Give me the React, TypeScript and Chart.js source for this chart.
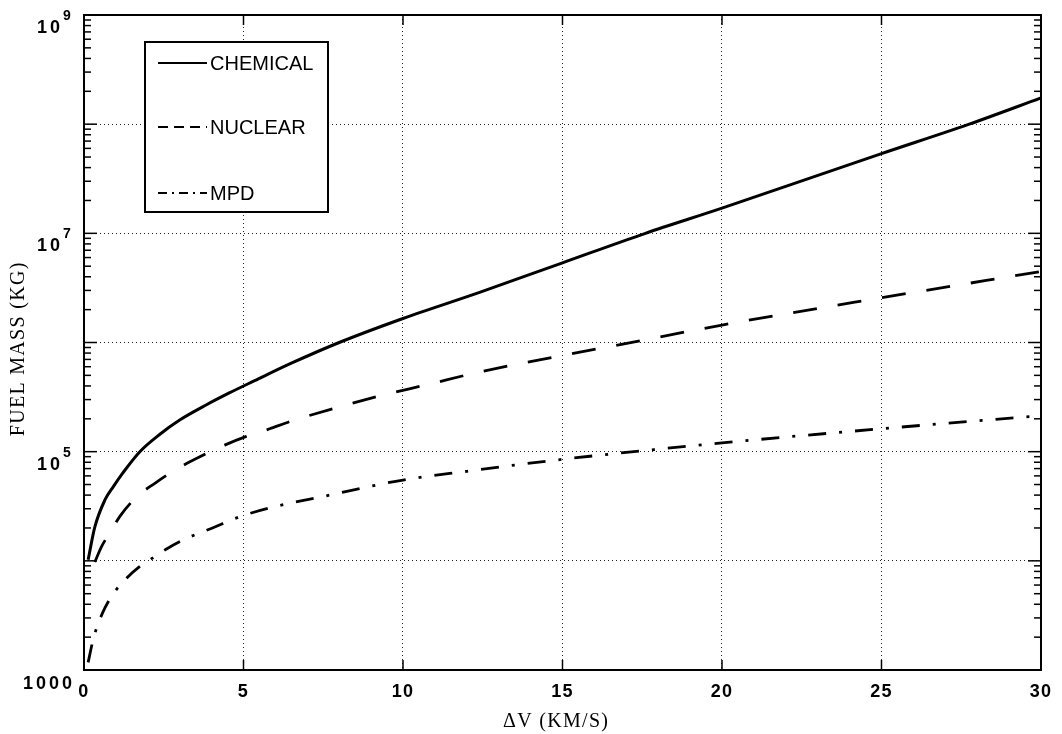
import React, { useEffect, useRef } from "react";
import { Chart, registerables } from "chart.js";

Chart.register(...registerables);

// ---- data ----
const chemicalV = [0.13, 0.34, 0.66, 0.92, 1.23, 1.75, 2.38, 3.0, 3.84, 4.57, 5.35, 6.5, 8, 10, 12.4, 15, 17.6, 20, 25, 27.75, 30];
const chemicalM = [10230, 20420, 36300, 47900, 64600, 100000, 144500, 195000, 269000, 347000, 447000, 646000, 1000000, 1660000, 2880000, 5370000, 10000000, 17000000, 53700000, 100000000, 174000000];

const nuclearV = [0.34, 0.55, 0.86, 1.13, 1.65, 2.22, 2.9, 3.68, 4.41, 5.09, 5.82, 6.5, 8, 9.4, 10.7, 12.4, 15, 17.5, 20, 25, 30];
const nuclearM = [9770, 13500, 19050, 25700, 38500, 51300, 69200, 91200, 114800, 138000, 162000, 190500, 257000, 331000, 407000, 537000, 759000, 1047000, 1445000, 2570000, 4470000];

const mpdV = [0.13, 0.28, 0.4, 0.66, 0.92, 1.33, 1.75, 2.12, 2.6, 3.1, 3.58, 4.1, 4.57, 5.04, 6.03, 7.5, 10, 12, 15, 20, 25, 30];
const mpdM = [1175, 1860, 2450, 3720, 5010, 6920, 8910, 10470, 12900, 15500, 17800, 20400, 23400, 26300, 31600, 38900, 55000, 66100, 85100, 120200, 162200, 213800];

const seriesNames = ["CHEMICAL", "NUCLEAR", "MPD"];
const xTickValues = [0, 5, 10, 15, 20, 25, 30];
const yDecades = [1e3, 1e4, 1e5, 1e6, 1e7, 1e8, 1e9];
// labelled y ticks: value, base text, exponent text
const yLabelValues = [1e3, 1e5, 1e7, 1e9];
const yLabelBase = ["1000", "10", "10", "10"];
const yLabelExp = ["", "5", "7", "9"];
const xTitle = "\u0394V (KM/S)";
const yTitle = "FUEL MASS (KG)";

const toPoints = (xs: number[], ys: number[]) => xs.map((v, i) => ({ x: v, y: ys[i] }));

const SANS = "'Liberation Sans', Arial, Helvetica, sans-serif";
const SERIF = "'Liberation Serif', 'Times New Roman', serif";

const spacingPlugin = {
  id: "spacing",
  beforeDraw(chart: any) {
    chart.ctx.letterSpacing = "1.3px";
  },
};

const decorPlugin = {
  id: "decor",
  afterDatasetsDraw(chart: any) {
    const { ctx, chartArea, scales } = chart;
    const { left, right, top, bottom } = chartArea;
    const y = scales.y;
    const x = scales.x;
    const line = (x1: number, y1: number, x2: number, y2: number) => {
      ctx.beginPath();
      ctx.moveTo(x1, y1);
      ctx.lineTo(x2, y2);
      ctx.stroke();
    };
    ctx.save();
    ctx.strokeStyle = "#000";
    ctx.setLineDash([]);
    ctx.lineWidth = 1.5;
    // minor y ticks (inward, both sides)
    for (let e = 3; e < 9; e++) {
      for (let k = 2; k <= 9; k++) {
        const py = y.getPixelForValue(k * Math.pow(10, e));
        line(left, py, left + 7, py);
        line(right, py, right - 7, py);
      }
    }
    // major y ticks
    yDecades.forEach((v) => {
      const py = y.getPixelForValue(v);
      line(left, py, left + 13, py);
      line(right, py, right - 13, py);
    });
    // x ticks
    xTickValues.forEach((v) => {
      const px = x.getPixelForValue(v);
      line(px, bottom, px, bottom - 10);
      line(px, top, px, top + 10);
    });
    // frame
    ctx.lineWidth = 2;
    ctx.strokeRect(left, top, right - left, bottom - top);

    // y tick labels with superscript exponents
    ctx.fillStyle = "#000";
    ctx.textBaseline = "alphabetic";
    yLabelValues.forEach((v, i) => {
      const py = y.getPixelForValue(v);
      ctx.letterSpacing = "3px";
      ctx.font = `bold 18px ${SANS}`;
      ctx.textAlign = "right";
      if (yLabelExp[i] === "") {
        ctx.fillText(yLabelBase[i], left - 9, py + 19);
      } else {
        ctx.fillText(yLabelBase[i], left - 21, py + 18);
        ctx.letterSpacing = "0px";
        ctx.font = `bold 14px ${SANS}`;
        ctx.textAlign = "left";
        ctx.fillText(yLabelExp[i], left - 21, py + 5);
      }
    });

    // legend box
    ctx.letterSpacing = "0px";
    const bx = left + 61;
    const by = top + 27;
    const bw = 183;
    const bh = 170;
    ctx.fillStyle = "#fff";
    ctx.fillRect(bx, by, bw, bh);
    ctx.lineWidth = 2;
    ctx.strokeRect(bx, by, bw, bh);
    const rows = [by + 21, by + 85, by + 151];
    const dashes = [[], [10, 6], [9, 5, 2, 5]];
    ctx.font = `20px ${SANS}`;
    ctx.fillStyle = "#000";
    ctx.textBaseline = "middle";
    ctx.textAlign = "left";
    seriesNames.forEach((name, i) => {
      ctx.setLineDash(dashes[i]);
      ctx.lineWidth = 2;
      line(bx + 13, rows[i], bx + 62, rows[i]);
      ctx.setLineDash([]);
      ctx.fillText(name, bx + 65, rows[i] + 1);
    });
    ctx.restore();
  },
};

export default function App() {
  const canvasRef = useRef<HTMLCanvasElement | null>(null);

  useEffect(() => {
    document.body.style.margin = "0";
    const canvas = canvasRef.current;
    if (!canvas) return;
    const tickFont = { family: SANS, size: 18, weight: "bold" as const };
    const titleFont = { family: SERIF, size: 20 };
    const chart = new Chart(canvas, {
      type: "scatter",
      data: {
        datasets: [
          {
            label: seriesNames[0],
            data: toPoints(chemicalV, chemicalM),
            showLine: true,
            borderColor: "#000",
            borderWidth: 3,
            pointRadius: 0,
            cubicInterpolationMode: "monotone",
          },
          {
            label: seriesNames[1],
            data: toPoints(nuclearV, nuclearM),
            showLine: true,
            borderColor: "#000",
            borderWidth: 2.8,
            borderDash: [24, 21],
            pointRadius: 0,
            cubicInterpolationMode: "monotone",
          },
          {
            label: seriesNames[2],
            data: toPoints(mpdV, mpdM),
            showLine: true,
            borderColor: "#000",
            borderWidth: 2.8,
            borderDash: [18, 13, 3, 13],
            pointRadius: 0,
            cubicInterpolationMode: "monotone",
          },
        ],
      },
      options: {
        responsive: false,
        animation: false,
        devicePixelRatio: 1,
        layout: { padding: { left: 0, right: 19, top: 15, bottom: 0 } },
        plugins: {
          legend: { display: false },
          tooltip: { enabled: false },
        },
        scales: {
          x: {
            type: "linear",
            min: 0,
            max: 30,
            afterBuildTicks: (s: any) => {
              s.ticks = xTickValues.map((v) => ({ value: v }));
            },
            afterFit: (s: any) => {
              s.height = 64;
            },
            grid: { color: "#222", lineWidth: 1, drawTicks: false },
            border: { display: false, dash: [1, 3] },
            ticks: {
              color: "#000",
              font: tickFont,
              padding: 11,
              maxRotation: 0,
              autoSkip: false,
            },
            title: {
              display: true,
              text: xTitle + "  ",
              color: "#000",
              font: titleFont,
              padding: { top: 0, bottom: 0 },
            },
          },
          y: {
            type: "logarithmic",
            min: 1000,
            max: 1e9,
            afterBuildTicks: (s: any) => {
              s.ticks = yDecades.map((v) => ({ value: v }));
            },
            afterFit: (s: any) => {
              s.width = 84;
            },
            grid: { color: "#222", lineWidth: 1, drawTicks: false },
            border: { display: false, dash: [1, 3] },
            ticks: { display: false },
            title: {
              display: true,
              text: yTitle + "  ",
              color: "#000",
              font: titleFont,
              padding: { top: 7, bottom: 0 },
            },
          },
        },
      },
      plugins: [spacingPlugin, decorPlugin],
    } as any);
    return () => chart.destroy();
  }, []);

  return (
    <div style={{ position: "relative", width: 1062, height: 734 }}>
      <canvas ref={canvasRef} width={1062} height={734} />
    </div>
  );
}
